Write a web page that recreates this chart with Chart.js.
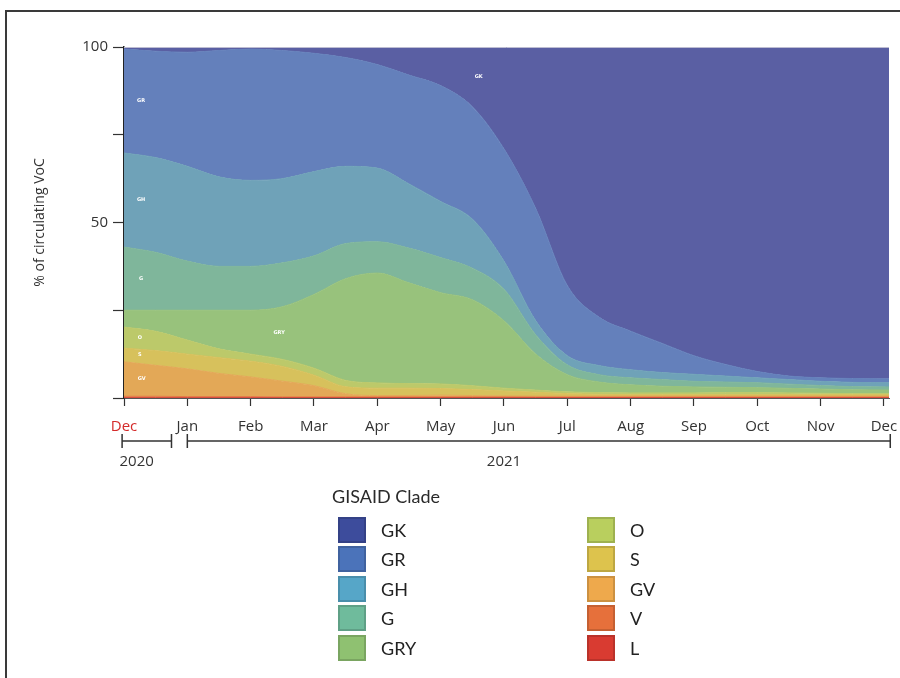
<!DOCTYPE html>
<html><head><meta charset="utf-8">
<script src="https://cdn.jsdelivr.net/npm/chart.js@4.4.1/dist/chart.umd.min.js"></script>
<style>
html,body{margin:0;padding:0;background:#fff;}
#wrap{position:relative;width:900px;height:678px;overflow:hidden;}
#c{position:absolute;left:0;top:0;}
.lg-title{position:absolute;left:332px;top:485px;font:18px Lato,sans-serif;color:#2a2a2a;line-height:22px;white-space:nowrap;}
.lg-item{position:absolute;height:26px;font:18px Lato,sans-serif;color:#222;line-height:26px;white-space:nowrap;}
.lg-box{position:absolute;left:0;top:0;width:28px;height:26px;box-sizing:border-box;border:2px solid rgba(0,0,0,0.14);}
.lg-text{position:absolute;left:43px;top:0;}
</style></head>
<body>
<div id="wrap"><canvas id="c" width="900" height="678"></canvas><div id="legend"></div></div>
<script>
// ---- data (months since Dec 1, 2020) ----
const xPos = [0,0.5,1,1.5,2,2.5,3,3.5,4,4.5,5,5.5,6,6.5,7,7.5,8,8.5,9,9.5,10,10.5,11,11.5,12.08];
const monthTicks = ['Dec','Jan','Feb','Mar','Apr','May','Jun','Jul','Aug','Sep','Oct','Nov','Dec'];
const yearLabels = ['2020','2021'];
const clades = ['L','V','GV','S','O','GRY','G','GH','GR','GK']; // stacked bottom -> top

const L   = [0.1,0.1,0.1,0.1,0.1,0.1,0.1,0.1,0.1,0.1,0.1,0.1,0.1,0.1,0.1,0.1,0.1,0.1,0.1,0.1,0.1,0.1,0.1,0.1,0.1];
const V   = [0.4,0.4,0.3,0.3,0.3,0.2,0.2,0.2,0.2,0.2,0.2,0.2,0.2,0.15,0.15,0.15,0.15,0.15,0.15,0.15,0.15,0.15,0.15,0.15,0.15];
const GV  = [9.8,8.8,7.9,6.6,5.6,4.5,3.2,0.9,0.4,0.4,0.5,0.4,0.3,0.3,0.3,0.3,0.3,0.3,0.3,0.3,0.3,0.3,0.3,0.3,0.3];
const S   = [3.9,4.2,4.2,4.5,4.5,4.2,3.0,2.0,2.1,2.1,1.9,1.7,1.4,1.1,0.7,0.5,0.4,0.4,0.4,0.4,0.4,0.4,0.4,0.4,0.4];
const O   = [6,5.5,4,2.5,2,2,2,1.8,1.5,1.3,1.3,1.1,0.8,0.6,0.5,0.5,0.5,0.5,0.5,0.6,0.6,0.5,0.4,0.3,0.3];
const GRY = [4.8,6,8.5,11,12.5,15,21,29,31.3,28.7,26,24.5,19.2,10.3,4.9,3.0,2.3,1.9,1.7,1.5,1.4,1.3,1.2,1.1,1.0];
const G   = [18,16.5,14,12.5,12.5,12.5,11,10,8.9,9.9,10,9,9,5.5,2.8,2.1,2.0,1.9,1.6,1.5,1.4,1.2,1.0,0.9,0.9];
const GH  = [26.8,27,27,25.5,24.5,24,24,22,21,18.3,16,14,8,4,2.6,2.6,2.3,2.0,2.0,1.7,1.4,1.3,1.2,1.2,1.2];
const GR  = [29.6,30.3,32.5,36,37.4,36.5,33.7,31,29.5,31,33,32,32,32,20,13.8,11,8.3,5.3,3.3,1.8,1.0,1.0,1.1,1.1];
const GK  = [0.6,1.2,1.5,1.0,0.6,1.0,1.8,3.0,5.0,8.0,11.0,17.0,29.0,46.0,68.0,77.0,81.0,84.5,88.0,90.5,92.5,93.8,94.3,94.5,94.6];
const seriesValues = {L, V, GV, S, O, GRY, G, GH, GR, GK};

// ---- styles ----
const areaColors = {L:'#D9463A',V:'#E27A45',GV:'#E3A857',S:'#D7C15C',O:'#BCC96A',GRY:'#98C27C',G:'#7FB69B',GH:'#6FA2B8',GR:'#6480BB',GK:'#5A5FA3'};
const legendColors = {GK:'#3D4C9C',GR:'#4B73BA',GH:'#56A6C8',G:'#6FBB9C',GRY:'#8FC171',O:'#B9CF5E',S:'#DDC34D',GV:'#EEA94C',V:'#E6703B',L:'#D93B31'};
const inlineSpots = [
  {clade:'GR', i:0, x:0.27},{clade:'GH', i:0, x:0.27},{clade:'G', i:0, x:0.27},
  {clade:'O', i:0, x:0.25},{clade:'S', i:0, x:0.25},{clade:'GV', i:0, x:0.28},
  {clade:'GRY', i:5, x:2.45},{clade:'GK', i:11, x:5.6}
];

const datasets = clades.map((name, k) => ({
  label: name,
  data: seriesValues[name].map((v, j) => ({x: xPos[j], y: v})),
  backgroundColor: areaColors[name],
  borderColor: areaColors[name],
  borderWidth: 1,
  pointRadius: 0,
  fill: k === 0 ? 'origin' : '-1',
  cubicInterpolationMode: 'monotone',
  legendColor: legendColors[name]
}));

const framePlugin = {
  id: 'frame',
  beforeDraw(chart) {
    const ctx = chart.ctx;
    ctx.save();
    ctx.strokeStyle = '#3a3a3a';
    ctx.lineWidth = 2;
    ctx.beginPath();
    ctx.moveTo(6, 700); ctx.lineTo(6, 11); ctx.lineTo(910, 11);
    ctx.stroke();
    ctx.restore();
  },
  afterDatasetsDraw(chart) {
    const ctx = chart.ctx, a = chart.chartArea;
    ctx.save();
    ctx.strokeStyle = 'rgba(200,200,215,0.9)';
    ctx.lineWidth = 1;
    ctx.beginPath();
    ctx.moveTo(a.left, a.top + 0.5); ctx.lineTo(a.right, a.top + 0.5);
    ctx.stroke();
    ctx.restore();
  }
};

const inlineLabelPlugin = {
  id: 'inlineLabels',
  afterDatasetsDraw(chart) {
    const ctx = chart.ctx, xs = chart.scales.x, ys = chart.scales.y;
    ctx.save();
    ctx.fillStyle = '#ffffff';
    ctx.font = 'bold 5px "DejaVu Sans", sans-serif';
    ctx.textAlign = 'center';
    ctx.textBaseline = 'middle';
    inlineSpots.forEach(s => {
      const k = clades.indexOf(s.clade);
      const top = chart.getDatasetMeta(k).data[s.i].y;
      const bot = k === 0 ? ys.getPixelForValue(0) : chart.getDatasetMeta(k - 1).data[s.i].y;
      ctx.fillText(s.clade, xs.getPixelForValue(s.x), (top + bot) / 2);
    });
    ctx.restore();
  }
};

const yearPlugin = {
  id: 'years',
  afterDraw(chart, args, opts) {
    const ctx = chart.ctx, xs = chart.scales.x;
    const yLine = chart.chartArea.bottom + 43;
    ctx.save();
    ctx.strokeStyle = '#333';
    ctx.lineWidth = 1.5;
    ctx.fillStyle = '#333';
    ctx.font = '15px "Open Sans", sans-serif';
    ctx.textAlign = 'center';
    ctx.textBaseline = 'middle';
    opts.spans.forEach((sp, i) => {
      const a = xs.getPixelForValue(sp[0]), b = xs.getPixelForValue(sp[1]);
      ctx.beginPath();
      ctx.moveTo(a, yLine); ctx.lineTo(b, yLine);
      ctx.moveTo(a, yLine - 7); ctx.lineTo(a, yLine + 7);
      ctx.moveTo(b, yLine - 7); ctx.lineTo(b, yLine + 7);
      ctx.stroke();
      ctx.fillText(yearLabels[i], xs.getPixelForValue(opts.labelAt[i]), yLine + 21);
    });
    ctx.restore();
  }
};

const chart = new Chart(document.getElementById('c'), {
  type: 'line',
  data: {datasets},
  options: {
    responsive: false,
    animation: false,
    layout: {padding: {left: 28, top: 47, right: 11, bottom: 0}},
    plugins: {
      legend: {display: false},
      tooltip: {enabled: false},
      years: {spans: [[-0.03, 0.75], [1, 12.1]], labelAt: [0.2, 6]}
    },
    scales: {
      x: {
        type: 'linear', min: 0, max: 12.08,
        afterBuildTicks: (s) => { s.ticks = monthTicks.map((_, i) => ({value: i})); },
        afterFit: (s) => { s.height = 280; s.paddingRight = 0; s.paddingLeft = 0; },
        ticks: {
          autoSkip: false, maxRotation: 0, padding: 12,
          font: {family: '"Open Sans", sans-serif', size: 15},
          color: (c) => c.index === 0 ? '#D42A2A' : '#333',
          callback: (v, i) => monthTicks[i]
        },
        grid: {drawOnChartArea: false, color: '#333', tickLength: 8, tickWidth: 1.2},
        border: {display: true, color: '#555', width: 1}
      },
      y: {
        stacked: true, min: 0, max: 100,
        afterFit: (s) => { s.width = 96; s.paddingTop = 0; s.paddingBottom = 0; },
        ticks: {
          stepSize: 25, padding: 5,
          font: {family: '"Open Sans", sans-serif', size: 15},
          color: '#333',
          callback: (v) => (v === 100 || v === 50) ? String(v) : ''
        },
        grid: {drawOnChartArea: false, color: '#333', tickLength: 11, tickWidth: 1.2},
        border: {display: true, color: '#222', width: 1.5},
        title: {display: true, text: '% of circulating VoC', color: '#333',
                font: {family: '"Open Sans", sans-serif', size: 14}}
      }
    }
  },
  plugins: [framePlugin, inlineLabelPlugin, yearPlugin]
});

// ---- HTML legend built from chart datasets ----
(function buildLegend() {
  const el = document.getElementById('legend');
  const t = document.createElement('div');
  t.className = 'lg-title';
  t.textContent = 'GISAID Clade';
  el.appendChild(t);
  const items = chart.data.datasets.slice().reverse();
  items.forEach((ds, n) => {
    const col = Math.floor(n / 5), row = n % 5;
    const it = document.createElement('div');
    it.className = 'lg-item';
    it.style.left = (col === 0 ? 338 : 587) + 'px';
    it.style.top = (517 + row * 29.4) + 'px';
    const box = document.createElement('div');
    box.className = 'lg-box';
    box.style.background = ds.legendColor;
    const tx = document.createElement('span');
    tx.className = 'lg-text';
    tx.textContent = ds.label;
    it.appendChild(box); it.appendChild(tx);
    el.appendChild(it);
  });
})();
</script>
</body></html>
